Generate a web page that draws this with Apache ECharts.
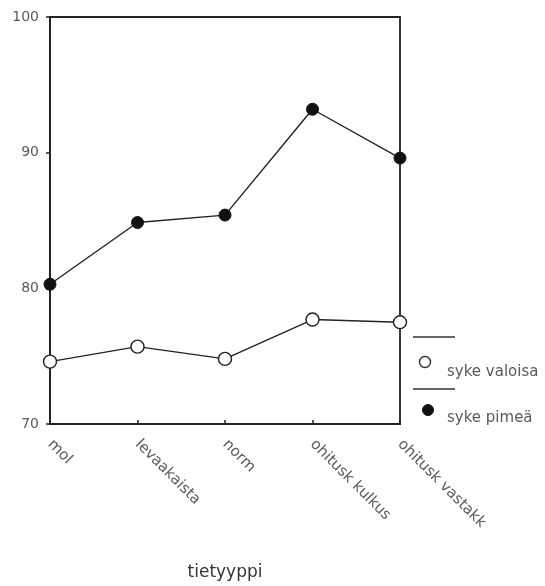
<!DOCTYPE html>
<html><head><meta charset="utf-8">
<script src="https://cdn.jsdelivr.net/npm/echarts@6/dist/echarts.min.js"></script>
<style>html,body{margin:0;padding:0;background:#fff}#c{width:545px;height:586px}</style>
</head><body><div id="c"></div>
<script>
const categories = ['mol', 'levaakaista', 'norm', 'ohitusk kulkus', 'ohitusk vastakk'];
const sykeValoisa = [74.6, 75.7, 74.8, 77.7, 77.5];
const sykePimea = [80.3, 84.85, 85.4, 93.2, 89.6];
const yTicks = [70, 80, 90, 100];
const xTitle = 'tietyyppi';
const legendNames = ['syke valoisa', 'syke pimeä'];

const chart = echarts.init(document.getElementById('c'));
const font = '"DejaVu Sans", sans-serif';
chart.setOption({
  animation: false,
  grid: { left: 50, right: 145, top: 17, bottom: 161, show: true, borderColor: '#222', borderWidth: 1.8, backgroundColor: 'transparent' },
  xAxis: {
    type: 'category', data: categories, boundaryGap: false,
    axisLine: { lineStyle: { color: '#222', width: 1.8 } },
    axisTick: { show: true, inside: true, length: 4, lineStyle: { color: '#222', width: 1.5 } },
    axisLabel: { rotate: -45, color: '#5a5a5a', fontFamily: font, fontSize: 15, margin: 18 },
    name: xTitle, nameLocation: 'middle', nameGap: 140,
    nameTextStyle: { color: '#333', fontFamily: font, fontSize: 17 }
  },
  yAxis: {
    type: 'value', min: 70, max: 100, interval: 10,
    axisLine: { show: true, lineStyle: { color: '#222', width: 1.8 } },
    axisTick: { show: true, length: 4, lineStyle: { color: '#222', width: 1.5 } },
    splitLine: { show: false },
    axisLabel: { color: '#5a5a5a', fontFamily: font, fontSize: 14, margin: 11,
      formatter: v => yTicks.includes(v) ? String(v) : '' }
  },
  series: [
    { name: legendNames[0], type: 'line', data: sykeValoisa, symbol: 'circle', symbolSize: 13,
      lineStyle: { color: '#222', width: 1.4 }, itemStyle: { color: '#fff', borderColor: '#222', borderWidth: 1.4 } },
    { name: legendNames[1], type: 'line', data: sykePimea, symbol: 'circle', symbolSize: 12,
      lineStyle: { color: '#222', width: 1.4 }, itemStyle: { color: '#111', borderColor: '#111', borderWidth: 1 } }
  ],
  graphic: [
    { type: 'line', shape: { x1: 413, y1: 337, x2: 455, y2: 337 }, style: { stroke: '#333', lineWidth: 1.5 } },
    { type: 'circle', shape: { cx: 425, cy: 362, r: 5.5 }, style: { fill: '#fff', stroke: '#333', lineWidth: 1.4 } },
    { type: 'text', style: { x: 447, y: 372, text: legendNames[0], fill: '#5a5a5a', font: '15px ' + font, textVerticalAlign: 'middle' } },
    { type: 'line', shape: { x1: 413, y1: 389, x2: 455, y2: 389 }, style: { stroke: '#333', lineWidth: 1.5 } },
    { type: 'circle', shape: { cx: 428, cy: 410, r: 5.5 }, style: { fill: '#111', stroke: '#111', lineWidth: 1 } },
    { type: 'text', style: { x: 447, y: 418, text: legendNames[1], fill: '#5a5a5a', font: '15px ' + font, textVerticalAlign: 'middle' } }
  ]
});
</script></body></html>
